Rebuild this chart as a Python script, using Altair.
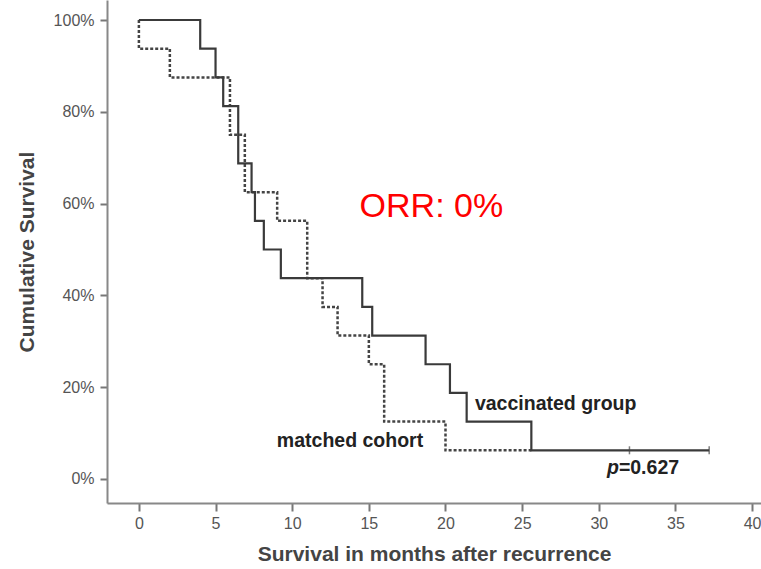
import altair as alt
import pandas as pd

# Vaccinated group (solid) – Kaplan-Meier steps
vacc_months = [0, 4.0, 5.0, 5.5, 6.48, 7.35, 7.57, 8.15, 9.26, 14.57, 15.22, 18.7, 20.29, 21.38, 25.6, 37.2]
vacc_surv = [1.0, 0.9375, 0.875, 0.8125, 0.6875, 0.625, 0.5625, 0.5, 0.4375, 0.375, 0.3125, 0.25, 0.1875, 0.125, 0.0625, 0.0625]

# Matched cohort (dotted)
match_months = [0, 0, 2.02, 5.94, 6.91, 9.02, 10.98, 11.98, 12.96, 15.0, 16.0, 20.0, 25.6]
match_surv = [1.0, 0.9375, 0.875, 0.75, 0.625, 0.5625, 0.4375, 0.375, 0.3125, 0.25, 0.125, 0.0625, 0.0625]

# Censoring marks on vaccinated curve
censor_months = [32.0, 37.2]
censor_surv = [0.0625, 0.0625]

x_ticks = [0, 5, 10, 15, 20, 25, 30, 35, 40]
y_ticks = [0, 0.2, 0.4, 0.6, 0.8, 1.0]

vacc = pd.DataFrame({"t": vacc_months, "s": vacc_surv, "i": range(len(vacc_months))})
match = pd.DataFrame({"t": match_months, "s": match_surv, "i": range(len(match_months))})
cens = pd.DataFrame({"t": censor_months, "s": censor_surv})

xscale = alt.Scale(domain=[-2.08, 40.58], nice=False, zero=False)
yscale = alt.Scale(domain=[-0.0523, 1.0436], nice=False, zero=False)

FONT = "Liberation Sans"

xaxis = alt.Axis(values=x_ticks, title="Survival in months after recurrence", grid=False,
                 domainColor="#888888", domainWidth=2, tickColor="#777777", tickWidth=2, tickSize=8,
                 labelFont=FONT, labelFontSize=16, labelColor="#555555", labelPadding=4,
                 titleFont=FONT, titleFontSize=21, titleFontWeight="bold", titleColor="#444444",
                 titlePadding=12)
yaxis = alt.Axis(values=y_ticks, format=".0%", title="Cumulative Survival", grid=False,
                 domainColor="#888888", domainWidth=2, tickColor="#777777", tickWidth=2, tickSize=7,
                 labelFont=FONT, labelFontSize=16, labelColor="#555555", labelPadding=6,
                 titleFont=FONT, titleFontSize=21, titleFontWeight="bold", titleColor="#444444",
                 titlePadding=16)

dotted = alt.Chart(match).mark_line(interpolate="step-after", color="#444444", strokeWidth=2.5,
                                    strokeDash=[3, 2]).encode(
    x=alt.X("t:Q", scale=xscale, axis=xaxis),
    y=alt.Y("s:Q", scale=yscale, axis=yaxis),
    order="i:Q",
)

solid = alt.Chart(vacc).mark_line(interpolate="step-after", color="#3a3a3a", strokeWidth=2.2).encode(
    x=alt.X("t:Q", scale=xscale),
    y=alt.Y("s:Q", scale=yscale),
    order="i:Q",
)

ticks = alt.Chart(cens).mark_tick(orient="vertical", color="#444444", size=8, thickness=1.5).encode(
    x=alt.X("t:Q", scale=xscale),
    y=alt.Y("s:Q", scale=yscale),
)

labels = pd.DataFrame({
    "t": [19.08, 21.92, 9.0, 31.31],
    "s": [0.570, 0.150, 0.0697, 0.0109],
    "txt": ["ORR: 0%", "vaccinated group", "matched cohort", "=0.627"],
})

orr = alt.Chart(labels.iloc[[0]]).mark_text(font=FONT, fontSize=34, color="#ff0000", align="center",
                                            baseline="alphabetic").encode(
    x=alt.X("t:Q", scale=xscale), y=alt.Y("s:Q", scale=yscale), text="txt:N")

grp = alt.Chart(labels.iloc[[1, 2, 3]]).mark_text(font=FONT, fontSize=19.5, fontWeight="bold",
                                                  color="#222222", align="left",
                                                  baseline="alphabetic").encode(
    x=alt.X("t:Q", scale=xscale), y=alt.Y("s:Q", scale=yscale), text="txt:N")

pdf = pd.DataFrame({"t": [30.53], "s": [0.0109], "txt": ["p"]})
ptxt = alt.Chart(pdf).mark_text(font=FONT, fontSize=19.5, fontWeight="bold", fontStyle="italic",
                                color="#222222", align="left", baseline="alphabetic").encode(
    x=alt.X("t:Q", scale=xscale), y=alt.Y("s:Q", scale=yscale), text="txt:N")

chart = alt.layer(dotted, solid, ticks, orr, grp, ptxt).properties(
    width=654, height=503,
    autosize=alt.AutoSizeParams(type="none"),
    padding={"left": 107, "top": 0, "right": 0, "bottom": 66},
    background="white",
).configure_view(stroke=None)

chart.save("out.html", embed_options={"renderer": "svg", "actions": False})
